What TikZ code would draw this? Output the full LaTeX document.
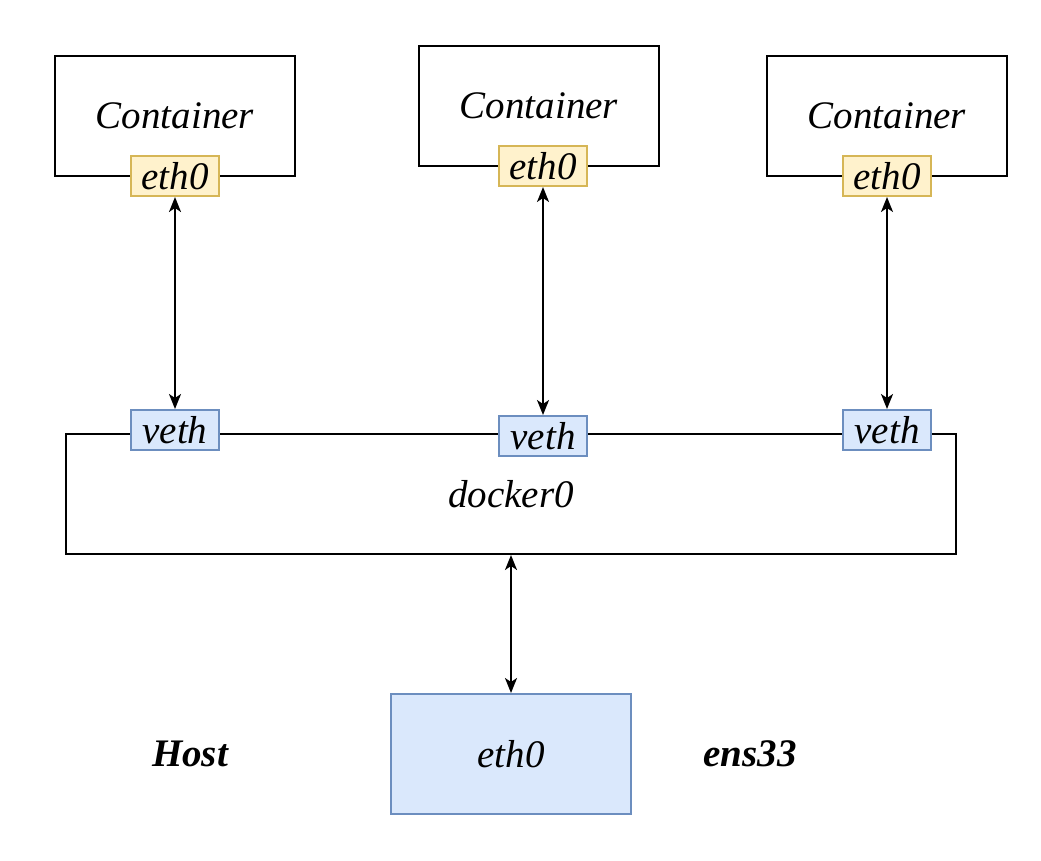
\documentclass[tikz,border=0pt]{standalone}
\usepackage{fontspec}
\setmainfont{Liberation Serif}
\usetikzlibrary{arrows.meta,positioning}
\definecolor{IfYellow}{HTML}{FFF2CC}
\definecolor{IfYellowLine}{HTML}{D6B656}
\definecolor{IfBlue}{HTML}{DAE8FC}
\definecolor{IfBlueLine}{HTML}{6C8EBF}

\begin{document}
\begin{tikzpicture}[
    x=1pt, y=-1pt,
    line width=2pt,
    >={Stealth[length=15pt,width=12pt,inset=4pt]},
    every node/.style={font=\fontsize{39}{45}\selectfont\itshape, inner sep=0pt},
    box/.style      = {draw, rectangle, minimum width=240pt, minimum height=120pt},
    wide box/.style = {draw, rectangle, minimum width=890pt, minimum height=120pt},
    port/.style     = {draw=IfYellowLine, fill=IfYellow, rectangle, minimum width=88pt, minimum height=40pt},
    vport/.style    = {draw=IfBlueLine, fill=IfBlue, rectangle, minimum width=88pt, minimum height=40pt},
    hostif/.style   = {draw=IfBlueLine, fill=IfBlue, rectangle, minimum width=240pt, minimum height=120pt},
    label/.style    = {font=\fontsize{39}{45}\selectfont\bfseries\itshape},
  ]
\useasboundingbox (0,0) rectangle (1041,860);

% containers
\node[box] (cont1) at (175,116) {Container};
\node[box] (cont2) at (539,106) {Container};
\node[box] (cont3) at (887,116) {Container};

% container interfaces
\node[port] (eth1) at (175,176) {eth0};
\node[port] (eth2) at (543,166) {eth0};
\node[port] (eth3) at (887,176) {eth0};

% bridge
\node[wide box] (bridge) at (511,494) {docker0};
\node[vport] (veth1) at (175,430) {veth};
\node[vport] (veth2) at (543,436) {veth};
\node[vport] (veth3) at (887,430) {veth};

% host
\node[hostif] (host eth) at (511,754) {eth0};
\node[label] (host) at (190,754) {Host};
\node[label] (ens) at (750,754) {ens33};

% links
\draw[<->] (eth1) -- (veth1);
\draw[<->] (eth2) -- (veth2);
\draw[<->] (eth3) -- (veth3);
\draw[<->] (bridge) -- (host eth);

\end{tikzpicture}
\end{document}
